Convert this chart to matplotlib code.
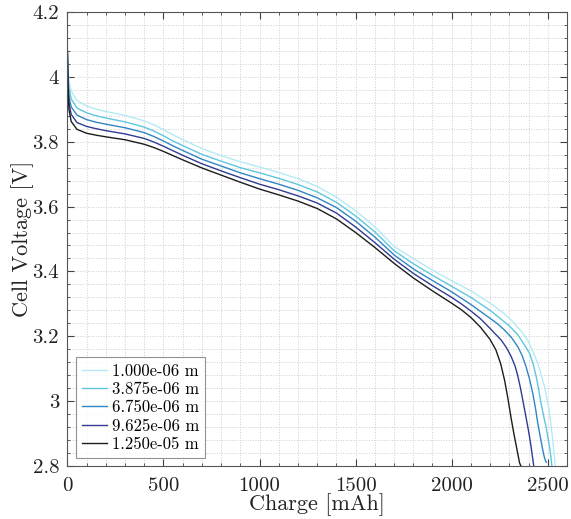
import matplotlib
matplotlib.use('Agg')
import matplotlib.pyplot as plt
from matplotlib.ticker import MultipleLocator, FuncFormatter

plt.rcParams['font.family'] = 'serif'
plt.rcParams['font.serif'] = ['cmr10']
plt.rcParams['mathtext.fontset'] = 'cm'
plt.rcParams['axes.formatter.use_mathtext'] = True

# discharge curves, one per particle radius
labels = ['1.000e-06 m', '3.875e-06 m', '6.750e-06 m', '9.625e-06 m', '1.250e-05 m']
colors = ['#b4eaf4', '#5ec6df', '#2f86c4', '#303b92', '#1c1c1c']

q_1 = [0, 3, 8, 20, 50, 100, 150, 200, 300, 400, 450, 500, 550, 600, 700,
       800, 900, 1000, 1100, 1200, 1300, 1400, 1500, 1600, 1700, 1800, 1900,
       2000, 2100, 2200, 2260, 2310, 2360, 2396, 2425, 2448, 2466, 2483,
       2497, 2509, 2518, 2526, 2533, 2538]
v_1 = [4.08, 4.03, 3.99, 3.955, 3.927, 3.910, 3.900, 3.893, 3.881, 3.864,
       3.852, 3.837, 3.821, 3.806, 3.779, 3.757, 3.738, 3.722, 3.705, 3.686,
       3.662, 3.629, 3.587, 3.538, 3.477, 3.440, 3.404, 3.371, 3.340, 3.302,
       3.276, 3.250, 3.217, 3.188, 3.150, 3.116, 3.080, 3.044, 3.003, 2.963,
       2.920, 2.880, 2.840, 2.800]

q_2 = [0, 3, 8, 20, 50, 100, 150, 200, 300, 400, 450, 500, 550, 600, 700,
       800, 900, 1000, 1100, 1200, 1300, 1400, 1500, 1600, 1700, 1800, 1900,
       2000, 2100, 2200, 2258, 2300, 2344, 2380, 2405, 2425, 2440, 2453,
       2465, 2478, 2491, 2500, 2509, 2516, 2521]
v_2 = [4.08, 4.01, 3.965, 3.932, 3.904, 3.889, 3.880, 3.873, 3.861, 3.845,
       3.833, 3.818, 3.802, 3.788, 3.761, 3.740, 3.720, 3.704, 3.687, 3.668,
       3.645, 3.613, 3.571, 3.522, 3.464, 3.424, 3.388, 3.354, 3.320, 3.280,
       3.252, 3.232, 3.205, 3.172, 3.148, 3.112, 3.075, 3.035, 2.993, 2.955,
       2.921, 2.890, 2.860, 2.830, 2.800]

q_3 = [0, 3, 8, 20, 50, 100, 150, 200, 300, 400, 450, 500, 550, 600, 700,
       800, 900, 1000, 1100, 1200, 1300, 1400, 1500, 1600, 1700, 1800, 1900,
       2000, 2100, 2189, 2240, 2275, 2310, 2344, 2367, 2387, 2405, 2422,
       2436, 2448, 2461, 2474, 2483, 2489, 2493]
v_3 = [4.08, 3.995, 3.94, 3.907, 3.882, 3.868, 3.860, 3.854, 3.843, 3.828,
       3.816, 3.802, 3.787, 3.773, 3.746, 3.725, 3.704, 3.686, 3.669, 3.650,
       3.627, 3.597, 3.555, 3.506, 3.451, 3.408, 3.372, 3.337, 3.298, 3.260,
       3.238, 3.219, 3.197, 3.168, 3.140, 3.106, 3.068, 3.024, 2.978, 2.932,
       2.890, 2.849, 2.825, 2.815, 2.812]

q_4 = [0, 3, 8, 20, 50, 100, 150, 200, 300, 400, 450, 500, 550, 600, 700,
       800, 900, 1000, 1100, 1200, 1300, 1400, 1500, 1600, 1700, 1800, 1900,
       2000, 2050, 2100, 2150, 2200, 2258, 2285, 2310, 2330, 2344, 2358,
       2370, 2383, 2396, 2405, 2413, 2420, 2427]
v_4 = [4.08, 3.985, 3.92, 3.884, 3.859, 3.847, 3.840, 3.834, 3.824, 3.810,
       3.799, 3.786, 3.772, 3.758, 3.732, 3.710, 3.689, 3.669, 3.652, 3.633,
       3.611, 3.580, 3.537, 3.489, 3.438, 3.394, 3.356, 3.320, 3.300, 3.278,
       3.254, 3.224, 3.188, 3.165, 3.137, 3.108, 3.078, 3.040, 3.003, 2.962,
       2.921, 2.890, 2.860, 2.830, 2.800]

q_5 = [0, 3, 8, 20, 50, 100, 150, 200, 300, 400, 450, 500, 550, 600, 700,
       800, 900, 1000, 1100, 1200, 1300, 1400, 1500, 1600, 1700, 1800, 1900,
       2000, 2050, 2100, 2150, 2200, 2230, 2255, 2275, 2292, 2310, 2325,
       2340, 2353, 2360]
v_5 = [4.08, 3.98, 3.90, 3.862, 3.838, 3.826, 3.820, 3.815, 3.806, 3.792,
       3.782, 3.770, 3.757, 3.744, 3.719, 3.697, 3.675, 3.654, 3.636, 3.617,
       3.594, 3.562, 3.520, 3.474, 3.425, 3.380, 3.340, 3.302, 3.282, 3.258,
       3.228, 3.190, 3.158, 3.115, 3.065, 3.010, 2.945, 2.895, 2.850, 2.810,
       2.800]

charges = [q_1, q_2, q_3, q_4, q_5]
voltages = [v_1, v_2, v_3, v_4, v_5]

fig = plt.figure(figsize=(5.71, 5.19), dpi=100)
ax = fig.add_axes([0.118, 0.102, 0.875, 0.875])

for q, v, c, lab in zip(charges, voltages, colors, labels):
    ax.plot(q, v, color=c, linewidth=1.0, label=lab)

ax.set_xlim(0, 2600)
ax.set_ylim(2.8, 4.2)
ax.xaxis.set_major_locator(MultipleLocator(500))
ax.xaxis.set_minor_locator(MultipleLocator(100))
ax.yaxis.set_major_locator(MultipleLocator(0.2))
ax.yaxis.set_minor_locator(MultipleLocator(0.04))
ax.yaxis.set_major_formatter(FuncFormatter(lambda y, p: '%g' % round(y, 2)))
ax.xaxis.set_major_formatter(FuncFormatter(lambda x, p: '%d' % x))

ax.grid(which='both', color='#cdcdcd', linestyle=':', linewidth=0.7)
ax.tick_params(which='both', direction='in', top=True, right=True,
               colors='#404040', labelcolor='#222222', labelsize=15)
ax.tick_params(axis='x', pad=8)
ax.tick_params(axis='y', pad=6)
ax.tick_params(which='major', length=5)
ax.tick_params(which='minor', length=2.5)
for s in ax.spines.values():
    s.set_color('#555555')
    s.set_linewidth(0.8)

ax.set_xlabel('Charge [mAh]', fontsize=16, color='#222222', labelpad=-1)
ax.set_ylabel('Cell Voltage [V]', fontsize=16, color='#222222', labelpad=-1)

leg = ax.legend(loc='lower left', fontsize=12, frameon=True, fancybox=False,
                handlelength=1.5, handletextpad=0.3, labelspacing=0.18,
                borderpad=0.35, borderaxespad=0.5)
leg.get_frame().set_edgecolor('#777777')
leg.get_frame().set_linewidth(0.8)

fig.savefig('out.png', dpi=100)
